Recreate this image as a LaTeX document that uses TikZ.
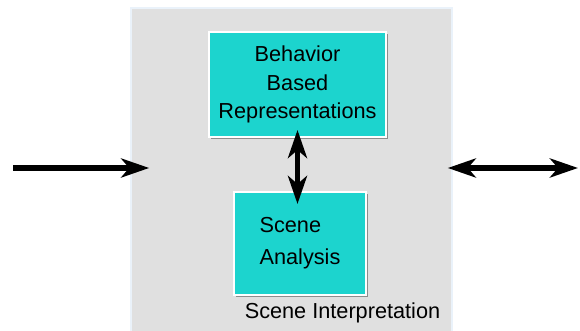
\documentclass[tikz,border=0pt]{standalone}
\usepackage{fontspec}
\setmainfont{Liberation Sans}
\usetikzlibrary{arrows.meta,shadows}
\definecolor{boxcyan}{RGB}{28,212,206}
\definecolor{framegray}{RGB}{224,224,224}
\definecolor{frameedge}{RGB}{234,242,250}
\begin{document}
\begin{tikzpicture}[x=0.5pt,y=0.5pt,
frm/.style = {draw=frameedge,line width=0.8pt,fill=framegray,inner sep=0pt},
bx/.style = {draw=white,line width=1pt,fill=boxcyan,inner sep=0pt,
  drop shadow={shadow xshift=1pt,shadow yshift=-1pt,fill=black!45,opacity=1}},
txt/.style = {font=\fontsize{10.85}{14.25}\selectfont},
bigarr/.style = {line width=2.6pt,{Stealth[length=14pt,width=9.5pt,inset=4pt]}-{Stealth[length=14pt,width=9.5pt,inset=4pt]}},
onearr/.style = {line width=2.6pt,-{Stealth[length=14pt,width=9.5pt,inset=4pt]}}
]
  \useasboundingbox (0,0) rectangle (580,331);
  \node[frm,minimum width=160.5pt,minimum height=164pt] (frame) at (291.5,159) {};
  \node[bx,txt,align=center,minimum width=88.5pt,minimum height=52.5pt] (beh) at (297.5,246.5)
    {Behavior\\Based\\Representations};
  \node[bx,txt,align=left,minimum width=66pt,minimum height=51.5pt,
    font=\fontsize{10.85}{16}\selectfont] (scene) at (300,87.5) {Scene\\Analysis};
  \node[txt] (interp) at (342.5,18.5) {Scene Interpretation};
  \coordinate (in) at (13,163);
  \coordinate (out) at (578,163);

  \draw[onearr] (in) -- ([xshift=9.5pt]frame.west |- in);
  \draw[bigarr] ([xshift=-2.5pt]frame.east |- out) -- (out);
  \draw[bigarr,shorten <=-4pt,shorten >=-6.5pt] (beh.south) -- (scene.north -| beh.south);
\end{tikzpicture}
\end{document}
